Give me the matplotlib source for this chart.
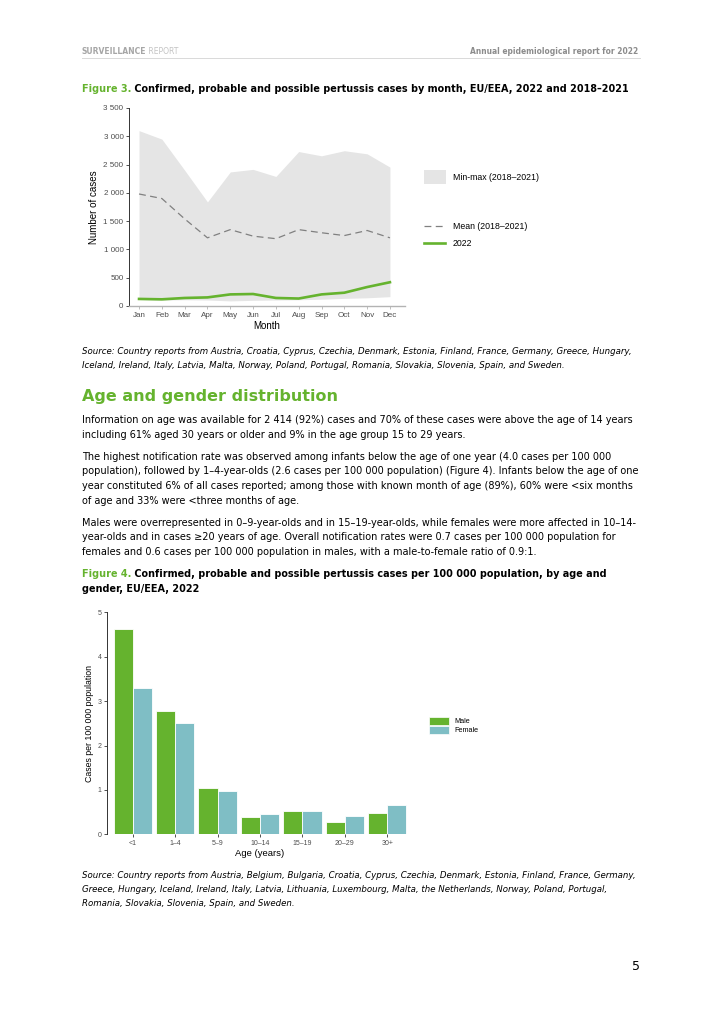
import matplotlib
matplotlib.use("Agg")
import matplotlib.pyplot as plt
from matplotlib.patches import Patch
from matplotlib.lines import Line2D

# ---- data figure 3 (cases by month)
months = ["Jan", "Feb", "Mar", "Apr", "May", "Jun", "Jul", "Aug", "Sep", "Oct", "Nov", "Dec"]
cases_min = [115, 105, 110, 105, 90, 100, 105, 110, 120, 135, 145, 165]
cases_max = [3100, 2950, 2400, 1840, 2370, 2415, 2290, 2730, 2655, 2745, 2690, 2455]
cases_mean = [1980, 1900, 1540, 1205, 1350, 1235, 1190, 1350, 1295, 1245, 1335, 1205]
cases_2022 = [125, 118, 142, 152, 205, 212, 142, 132, 205, 235, 335, 420]

# ---- data figure 4 (rate by age and gender)
age_groups = ["<1", "1\u20134", "5\u20139", "10\u201314", "15\u201319", "20\u201329", "30+"]
rate_male = [4.62, 2.78, 1.05, 0.40, 0.53, 0.28, 0.48]
rate_female = [3.29, 2.51, 0.98, 0.45, 0.52, 0.41, 0.67]

GREEN = "#65B32E"
TEAL = "#7FBEC5"
FILL = "#E5E5E5"
W, H = 724, 1024

fig = plt.figure(figsize=(W / 100, H / 100), dpi=100)
renderer = fig.canvas.get_renderer()


def fy(y):
    return 1 - y / H


def fit(s, width, **kw):
    t = fig.text(0, 0, s, fontsize=10, **kw)
    w = t.get_window_extent(renderer).width
    t.remove()
    return 10 * width / w


def put(x, y, s, size, **kw):
    kw.setdefault("color", "black")
    return fig.text(x / W, fy(y), s, fontsize=size, ha="left", va="center", **kw)


def put_runs(x, y, runs, size, **kw):
    # consecutive pieces of text with different colours / weights on one line
    for s, color, weight in runs:
        t = put(x, y, s, size, color=color, weight=weight, **kw)
        x += t.get_window_extent(renderer).width


body = dict(family="DejaVu Sans")
ital = dict(family="DejaVu Sans", style="italic")
title_kw = dict(family="DejaVu Sans", weight="bold", stretch="condensed")
title_nw = dict(family="DejaVu Sans", stretch="condensed")

# ---- header
hdr_size = fit("SURVEILLANCE REPORT", 100, **title_kw)
put_runs(82, 51, [("SURVEILLANCE", "#A6A6A6", "bold"), (" REPORT", "#C4C4C4", "normal")], hdr_size, **title_nw)
fig.text(638 / W, fy(51), "Annual epidemiological report for 2022",
         fontsize=fit("Annual epidemiological report for 2022", 166, **title_kw),
         ha="right", va="center", color="#8C8C8C", **title_kw)
fig.add_artist(Line2D([82 / W, 640 / W], [fy(58), fy(58)], color="#D9D9D9", lw=0.7))

# ---- figure titles
t3 = " Confirmed, probable and possible pertussis cases by month, EU/EEA, 2022 and 2018\u20132021"
tsize = fit("Figure 3." + t3, 546, **title_kw)
put_runs(82, 89, [("Figure 3.", GREEN, "bold"), (t3, "black", "bold")], tsize, **title_nw)

put_runs(82, 574, [("Figure 4.", GREEN, "bold"),
                   (" Confirmed, probable and possible pertussis cases per 100 000 population, by age and", "black", "bold")],
         tsize, **title_nw)
put(82, 588.5, "gender, EU/EEA, 2022", tsize, **title_kw)

# ---- sources
src3 = ["Source: Country reports from Austria, Croatia, Cyprus, Czechia, Denmark, Estonia, Finland, France, Germany, Greece, Hungary,",
        "Iceland, Ireland, Italy, Latvia, Malta, Norway, Poland, Portugal, Romania, Slovakia, Slovenia, Spain, and Sweden."]
src4 = ["Source: Country reports from Austria, Belgium, Bulgaria, Croatia, Cyprus, Czechia, Denmark, Estonia, Finland, France, Germany,",
        "Greece, Hungary, Iceland, Ireland, Italy, Latvia, Lithuania, Luxembourg, Malta, the Netherlands, Norway, Poland, Portugal,",
        "Romania, Slovakia, Slovenia, Spain, and Sweden."]
ssize = fit(src3[0], 549, **ital)
for i, s in enumerate(src3):
    put(82, 352 + i * 14, s, ssize, **ital)
for i, s in enumerate(src4):
    put(82, 876 + i * 14, s, ssize, **ital)

# ---- heading and paragraphs
put(82, 396, "Age and gender distribution", fit("Age and gender distribution", 255,
    family="DejaVu Sans", weight="bold"), color=GREEN, family="DejaVu Sans", weight="bold")

para1 = ["Information on age was available for 2 414 (92%) cases and 70% of these cases were above the age of 14 years",
         "including 61% aged 30 years or older and 9% in the age group 15 to 29 years."]
para2 = ["The highest notification rate was observed among infants below the age of one year (4.0 cases per 100 000",
         "population), followed by 1\u20134-year-olds (2.6 cases per 100 000 population) (Figure 4). Infants below the age of one",
         "year constituted 6% of all cases reported; among those with known month of age (89%), 60% were <six months",
         "of age and 33% were <three months of age."]
para3 = ["Males were overrepresented in 0\u20139-year-olds and in 15\u201319-year-olds, while females were more affected in 10\u201314-",
         "year-olds and in cases \u226520 years of age. Overall notification rates were 0.7 cases per 100 000 population for",
         "females and 0.6 cases per 100 000 population in males, with a male-to-female ratio of 0.9:1."]
bsize = fit(para1[0], 549, **body)
for start, lines in [(420, para1), (457, para2), (523, para3)]:
    for i, s in enumerate(lines):
        put(82, start + i * 14.5, s, bsize, **body)

fig.text(640 / W, fy(966), "5", fontsize=9, ha="right", va="center", family="DejaVu Sans")

# ---- figure 3 chart
ax = fig.add_axes([129 / W, fy(306), 276 / W, 198 / H])
x = list(range(len(months)))
ax.fill_between(x, cases_min, cases_max, color=FILL, lw=0)
ax.plot(x, cases_mean, color="#808080", lw=0.9, dashes=(5.5, 3.5))
ax.plot(x, cases_2022, color=GREEN, lw=1.9)
ax.set_xlim(-0.44, 11.66)
ax.set_ylim(0, 3500)
ax.set_xticks(x)
ax.set_xticklabels(months)
ax.set_yticks(range(0, 3501, 500))
ax.yaxis.set_major_formatter(plt.FuncFormatter(lambda v, _: f"{int(v):,}".replace(",", " ")))
for s in ["top", "right"]:
    ax.spines[s].set_visible(False)
ax.spines["left"].set_color("#333333")
ax.spines["left"].set_linewidth(0.7)
ax.spines["bottom"].set_color("#B3B3B3")
ax.spines["bottom"].set_linewidth(1.0)
ax.tick_params(axis="both", labelsize=5.8, labelcolor="#4D4D4D", length=2.5, width=0.6, pad=1.5)
ax.tick_params(axis="y", color="#333333")
ax.tick_params(axis="x", color="#B3B3B3")
ax.set_ylabel("Number of cases", fontsize=7, family="Liberation Sans", labelpad=3)
ax.set_xlabel("Month", fontsize=7, family="Liberation Sans", labelpad=1.5)
for lab in ax.get_xticklabels() + ax.get_yticklabels():
    lab.set_family("Liberation Sans")

fig.legend(handles=[Patch(facecolor=FILL, edgecolor="none")], labels=["Min-max (2018\u20132021)"],
           loc="center left", bbox_to_anchor=(424 / W, fy(177)), frameon=False, borderpad=0,
           borderaxespad=0, handlelength=2.5, handleheight=1.95, handletextpad=0.8,
           prop={"family": "Liberation Sans", "size": 6.3})
fig.legend(handles=[Line2D([], [], color="#808080", lw=0.9, dashes=(5.5, 3.5)),
                    Line2D([], [], color=GREEN, lw=1.9)],
           labels=["Mean (2018\u20132021)", "2022"],
           loc="center left", bbox_to_anchor=(424 / W, fy(235)), frameon=False, borderpad=0,
           borderaxespad=0, handlelength=2.4, handletextpad=0.9, labelspacing=0.9,
           prop={"family": "Liberation Sans", "size": 6.3})

# ---- figure 4 chart
ax2 = fig.add_axes([107.3 / W, fy(834.3), 305.4 / W, 222 / H])
xs = list(range(len(age_groups)))
bw = 0.45
ax2.bar([i - bw / 2 for i in xs], rate_male, width=bw, color=GREEN, edgecolor="white", lw=0.6, label="Male")
ax2.bar([i + bw / 2 for i in xs], rate_female, width=bw, color=TEAL, edgecolor="white", lw=0.6, label="Female")
ax2.set_xlim(-0.6, 6.6)
ax2.set_ylim(0, 5)
ax2.set_xticks(xs)
ax2.set_xticklabels(age_groups)
ax2.set_yticks(range(0, 6))
for s in ["top", "right", "bottom"]:
    ax2.spines[s].set_visible(False)
ax2.spines["left"].set_color("#333333")
ax2.spines["left"].set_linewidth(0.7)
ax2.tick_params(axis="both", labelsize=5, labelcolor="#4D4D4D", color="#333333", length=2.5, width=0.6, pad=1.5)
ax2.set_ylabel("Cases per 100 000 population", fontsize=6.3, family="Liberation Sans", labelpad=3)
ax2.set_xlabel("Age (years)", fontsize=6.8, family="Liberation Sans", labelpad=1.5)
for lab in ax2.get_xticklabels() + ax2.get_yticklabels():
    lab.set_family("Liberation Sans")

fig.legend(handles=[Patch(facecolor=GREEN, edgecolor="white", lw=0.5),
                    Patch(facecolor=TEAL, edgecolor="white", lw=0.5)],
           labels=["Male", "Female"], loc="center left", bbox_to_anchor=(429 / W, fy(725.5)),
           frameon=False, borderpad=0, borderaxespad=0, handlelength=2.74, handleheight=1.27,
           handletextpad=0.8, labelspacing=0.1, prop={"family": "Liberation Sans", "size": 5.25})

fig.savefig("out.png", dpi=100)
